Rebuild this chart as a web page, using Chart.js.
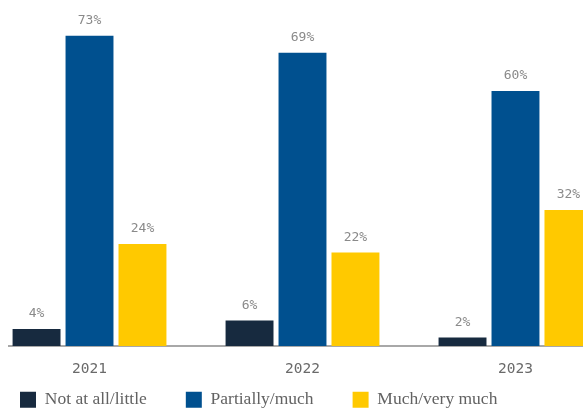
<!DOCTYPE html>
<html>
<head>
<meta charset="utf-8">
<script src="https://cdn.jsdelivr.net/npm/chart.js@4/dist/chart.umd.min.js"></script>
<style>
  html, body { margin: 0; padding: 0; background: #ffffff; overflow: hidden; }
  #c { display: block; }
</style>
</head>
<body>
<canvas id="c" width="583" height="408"></canvas>
<script>
const years = ['2021', '2022', '2023'];
const seriesNames = ['Not at all/little', 'Partially/much', 'Much/very much'];
const notAtAll = [4, 6, 2];
const partially = [73, 69, 60];
const veryMuch = [24, 22, 32];
const colors = ['#172a3f', '#00508f', '#ffc900'];

const seriesValues = [notAtAll, partially, veryMuch];

const datasets = seriesValues.map((vals, si) => ({
  label: seriesNames[si],
  data: vals.map((v, i) => ({ x: i, y: v })),
  backgroundColor: colors[si],
  borderWidth: 0,
  categoryPercentage: 0.746,
  barPercentage: 0.905
}));

const valueLabels = {
  id: 'valueLabels',
  afterDatasetsDraw(chart) {
    const ctx = chart.ctx;
    ctx.save();
    ctx.font = '13px "DejaVu Sans Mono"';
    ctx.fillStyle = '#8a8a8a';
    ctx.textAlign = 'center';
    ctx.textBaseline = 'middle';
    chart.data.datasets.forEach((ds, di) => {
      const meta = chart.getDatasetMeta(di);
      meta.data.forEach((el, i) => {
        ctx.fillText(ds.data[i].y + '%', el.x, el.y - 15);
      });
    });
    ctx.restore();
  }
};

const legendPlace = {
  id: 'legendPlace',
  afterLayout(chart) {
    const lg = chart.legend;
    const pad = lg.options.labels.padding;
    lg.left = 20 - pad;
    lg.top = 391 - pad;
  }
};

new Chart(document.getElementById('c'), {
  type: 'bar',
  data: { datasets },
  options: {
    responsive: false,
    animation: false,
    devicePixelRatio: 1,
    layout: { padding: { left: 9, right: 0, top: 6, bottom: 0 } },
    plugins: {
      tooltip: { enabled: false },
      legend: {
        position: 'bottom',
        align: 'start',
        maxHeight: 28,
        labels: {
          boxWidth: 16,
          boxHeight: 16,
          padding: 39,
          color: '#626262',
          font: { family: '"Liberation Serif"', size: 17.5 }
        }
      }
    },
    scales: {
      x: {
        type: 'linear',
        offset: false,
        min: -0.378,
        max: 2.317,
        afterBuildTicks: (s) => { s.ticks = years.map((y, i) => ({ value: i })); },
        afterFit: (s) => { s.height = 34; },
        ticks: {
          callback: (v) => years[v],
          color: '#6a6a6a',
          font: { family: '"DejaVu Sans Mono"', size: 14.5 },
          padding: 15,
          maxRotation: 0,
          autoSkip: false
        },
        grid: { display: true, offset: false, drawOnChartArea: false, drawTicks: false },
        border: { display: true, color: '#a8a8a8', width: 2 }
      },
      y: {
        display: false,
        min: 0,
        max: 80
      }
    }
  },
  plugins: [valueLabels, legendPlace]
});
</script>
</body>
</html>
